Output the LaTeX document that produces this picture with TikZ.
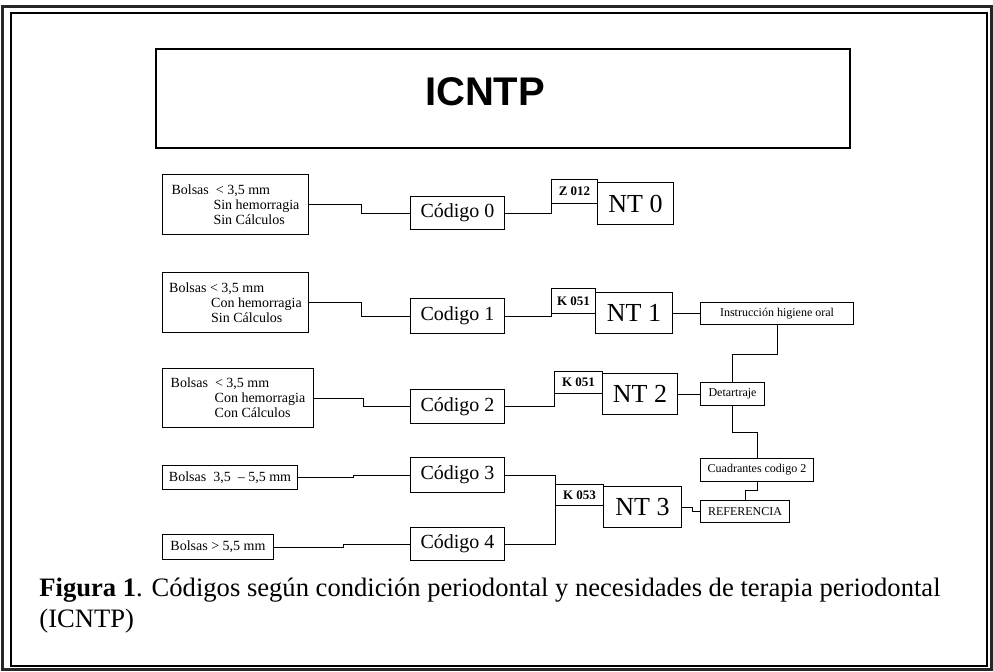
\documentclass[tikz,border=0pt]{standalone}
\usepackage{fontspec}
\setmainfont{Liberation Serif}
\newfontfamily\headfont{Liberation Sans}
\usetikzlibrary{positioning}
\tikzset{box/.style 2 args = {draw, line width = 0.5pt, anchor = north west, inner sep = 0, minimum width = #1, minimum height = #2}}
\tikzset{bolsa/.style = {font = \fontsize{7}{7.5}\selectfont, align = left}}
\tikzset{codigo/.style = {font = \fontsize{10}{12}\selectfont}}
\tikzset{nt/.style = {font = \fontsize{13}{15}\selectfont}}
\tikzset{clave/.style = {font = \fontsize{6.5}{8}\selectfont\bfseries}}
\tikzset{accion/.style = {font = \fontsize{6}{7}\selectfont}}
\tikzset{link/.style = {line width = 0.5pt}}

\begin{document}
\begin{tikzpicture}[x = 0.5pt, y = -0.5pt]
  \useasboundingbox (0, 0) rectangle (993, 671);
  \draw [line width = 1.5pt, black!85] (2, 6) rectangle (991, 669);
  \draw [line width = 0.6pt] (11, 13) rectangle (987, 666);

  \node [box = {347pt}{49.5pt}, line width = 1.2pt] (titlebox) at (155, 48) {};
  \node [font = \headfont\fontsize{20}{24}\selectfont\bfseries] (icntp) at (485, 92) {ICNTP};

  % condiciones
  \node [box = {73pt}{30pt}, bolsa] (L0) at (162, 174) {Bolsas \ < 3,5 mm\\\hspace*{21pt}Sin hemorragia\\\hspace*{21pt}Sin Cálculos};
  \node [box = {73pt}{30pt}, bolsa] (L1) at (162, 272) {Bolsas < 3,5 mm\\\hspace*{21pt}Con hemorragia\\\hspace*{21pt}Sin Cálculos};
  \node [box = {75.5pt}{29.5pt}, bolsa] (L2) at (162, 368) {Bolsas \ < 3,5 mm\\\hspace*{22pt}Con hemorragia\\\hspace*{22pt}Con Cálculos};
  \node [box = {67.5pt}{12pt}, bolsa] (L3) at (162, 465) {Bolsas \ 3,5 \ – 5,5 mm};
  \node [box = {55.5pt}{12.5pt}, bolsa] (L4) at (162, 534) {Bolsas > 5,5 mm};

  % codigos
  \node [box = {47pt}{16.5pt}, codigo] (C0) at (410, 196) {Código 0};
  \node [box = {47pt}{17.5pt}, codigo] (C1) at (410, 298) {Codigo 1};
  \node [box = {47pt}{17pt}, codigo] (C2) at (410, 389) {Código 2};
  \node [box = {47pt}{17.5pt}, codigo] (C3) at (410, 457) {Código 3};
  \node [box = {47pt}{16.5pt}, codigo] (C4) at (410, 527) {Código 4};

  \node [box = {23pt}{12pt}, clave] (Z012) at (551, 179) {Z 012};
  \node [box = {22pt}{12.5pt}, clave] (K051a) at (551, 288) {K 051};
  \node [box = {24pt}{11pt}, clave] (K051b) at (554, 371) {K 051};
  \node [box = {24pt}{10.5pt}, clave] (K053) at (555, 484) {K 053};

  \node [box = {38pt}{21pt}, nt] (NT0) at (597, 182) {NT 0};
  \node [box = {38.5pt}{20.5pt}, nt] (NT1) at (595, 292) {NT 1};
  \node [box = {37.5pt}{20.5pt}, nt] (NT2) at (602, 373) {NT 2};
  \node [box = {39pt}{20.5pt}, nt] (NT3) at (603, 486) {NT 3};

  % terapias
  \node [box = {76.5pt}{11pt}, accion] (instr) at (700, 302) {Instrucción higiene oral};
  \node [box = {32pt}{11.5pt}, accion] (detar) at (700, 382) {Detartraje};
  \node [box = {56.5pt}{11.5pt}, accion] (cuadr) at (700, 458) {Cuadrantes codigo 2};
  \node [box = {44.5pt}{11pt}, accion] (refer) at (700, 500) {REFERENCIA};

  \draw [link] (L0.east) -- ++(52, 0) |- (C0.west);
  \draw [link] (L1.east) -- ++(52, 0) |- (C1.west);
  \draw [link] (L2.east) -- ++(49, 0) |- (C2.west);
  \draw [link] (L3.east) -- ++(55, 0) |- (C3.west);
  \draw [link] (L4.east) -- ++(69, 0) |- (C4.west);

  \draw [link] (C0.east) -| (Z012.south west);
  \draw [link] (C1.east) -| (K051a.south west);
  \draw [link] (C2.east) -| (K051b.south west);
  \draw [link] (C3.east) -| (K053.south west);
  \draw [link] (C4.east) -| (K053.south west);

  \draw [link] (NT1.east) -- (NT1.east -| instr.west);
  \draw [link] (NT2.east) -- (NT2.east -| detar.west);
  \draw [link] (NT3.east) -- ++(10, 0) |- (refer.west);
  \draw [link] (instr.south) -- ++(0, 29) -| (detar.north);
  \draw [link] (detar.south) -- ++(0, 26) -| (cuadr.north);
  \draw [link] (cuadr.south) -- ++(0, 8) -| (refer.north);

  \node [anchor = base west, font = \fontsize{13.3}{16}\selectfont, inner sep = 0] (cap1) at (39, 596) {\textbf{Figura 1}. Códigos según condición periodontal y necesidades de terapia periodontal};
  \node [anchor = base west, font = \fontsize{13.3}{16}\selectfont, inner sep = 0] (cap2) at (39, 627) {(ICNTP)};
\end{tikzpicture}
\end{document}
